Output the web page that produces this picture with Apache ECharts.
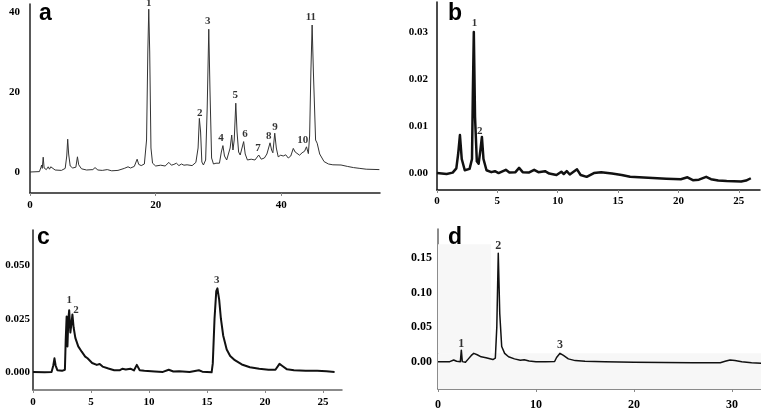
<!DOCTYPE html>
<html>
<head>
<meta charset="utf-8">
<script src="https://cdn.jsdelivr.net/npm/echarts@6/dist/echarts.min.js"></script>
<style>html,body{margin:0;padding:0;background:#fff}#c{width:761px;height:411px}</style>
</head>
<body>
<div id="c"></div>
<script>
// ---------- Panel a ----------
const aTime = [0,1.5,1.75,1.85,1.95,2.1,2.25,2.6,2.9,3.1,3.3,3.6,4.0,5.0,5.6,5.85,6.0,6.15,6.4,6.8,7.3,7.55,7.75,8.2,9.0,10.0,10.35,10.8,11.5,12.3,13.0,14.0,15.0,15.6,16.0,16.6,17.05,17.3,17.7,18.2,18.55,18.75,18.9,19.05,19.25,19.5,20.0,20.8,21.5,22.1,22.5,22.9,23.3,23.7,24.1,24.5,25.0,25.8,26.4,26.75,26.95,27.15,27.35,27.6,27.95,28.2,28.45,28.65,28.9,29.2,29.6,29.9,30.15,30.45,30.7,30.95,31.3,31.6,31.85,32.1,32.3,32.5,32.75,32.95,33.2,33.45,33.75,34.0,34.25,34.6,35.2,35.8,36.4,36.8,37.3,37.7,38.2,38.45,38.65,38.95,39.2,39.5,39.9,40.3,40.7,41.1,41.5,41.9,42.2,42.5,42.9,43.3,43.7,44.0,44.3,44.5,44.7,44.9,45.1,45.45,45.7,46.1,46.8,47.5,48.2,49.5,50.5,51.5,52.5,53.5,55.6];
const aSignal = [0,0.1,1.2,1.75,0.9,3.7,1.0,0.6,1.3,0.7,1.3,0.8,0.5,0.4,0.9,4.0,8.2,4.5,1.5,1.0,1.2,3.8,1.8,0.8,0.5,0.6,1.1,0.5,0.4,0.6,0.3,0.4,0.9,1.3,1.0,1.4,3.2,1.9,1.6,2.0,8,30,40.7,30,6,2.2,1.5,1.7,1.5,2.4,1.7,1.9,2.2,1.6,2.0,1.7,1.8,1.6,2.4,6,13.4,10,2.5,1.75,3,16,35.7,20,3.5,2.0,2.2,2.7,2.2,5,6.6,4,3.0,3.5,6,9.25,5.5,8,17.2,10,5,4.25,4.3,7.6,4.5,3.0,3.2,3.0,4.25,3.2,3.5,4.5,7.3,5.5,4.8,9.7,6,3.8,4.2,4.0,4.3,3.5,4.0,5.9,5.0,5.5,4.2,4.8,5.2,6.3,4.6,9,25,36.75,25,8,7.2,4.5,2.6,2.0,1.8,1.75,1.4,1.1,0.9,0.7,0.6,0.5];
const aPeakX = [18.9,27.0,28.3,30.4,32.65,34.2,36.3,38.0,39.0,43.4,44.7];
const aPeakY = [42.2,14.7,37.8,8.5,19.2,9.4,6.0,9.0,11.3,8.0,38.8];
const aPeakText = ['1','2','3','4','5','6','7','8','9','10','11'];
const aXTicks = [0,20,40];
const aYTicks = [0,20,40];

// ---------- Panel b ----------
const bTime = [0,0.8,1.3,1.6,1.75,1.9,2.05,2.3,2.7,2.9,2.97,3.05,3.15,3.3,3.45,3.6,3.72,3.85,4.1,4.5,4.8,5.1,5.7,6.0,6.5,6.8,7.1,7.6,8.05,8.4,8.95,9.3,9.9,10.3,10.5,10.75,11.0,11.6,11.9,12.4,13.0,13.6,14.5,15.3,16.0,17.5,19.0,20.2,20.75,21.2,21.7,22.3,22.7,23.3,24.0,25.2,25.6,26.0];
const bSignal = [0,-0.0002,0.0001,0.001,0.004,0.0081,0.003,0.0006,0.0009,0.003,0.017,0.030,0.012,0.0025,0.002,0.005,0.0077,0.003,0.0006,0.0002,0.0004,0.0,0.0007,0.0001,0.0002,0.0011,0.0002,0.0001,0.0007,0.0002,0.0004,-0.0001,-0.0004,0.0003,-0.0002,0.0004,-0.0003,0.0008,-0.0004,-0.0008,0.0,0.0002,-0.0001,-0.0004,-0.0008,-0.001,-0.0012,-0.0013,-0.0009,-0.0015,-0.0014,-0.0008,-0.0013,-0.0016,-0.0017,-0.0018,-0.0016,-0.0011];
const bPeakX = [3.1,3.55];
const bPeakY = [0.0318,0.009];
const bPeakText = ['1','2'];
const bXTicks = [0,5,10,15,20,25];
const bYTicks = [0,0.01,0.02,0.03];

// ---------- Panel c ----------
const cTime = [0,1.0,1.6,1.75,1.85,1.95,2.1,2.5,2.75,2.82,2.9,2.97,3.05,3.12,3.22,3.3,3.4,3.5,3.65,3.9,4.2,4.5,4.7,4.85,5.1,5.5,5.75,6.0,6.5,7.0,7.5,7.7,8.0,8.4,8.7,8.95,9.2,9.6,10.5,11.2,11.7,12.1,12.6,13.5,14.3,14.6,15.4,15.5,15.65,15.8,15.9,16.05,16.2,16.4,16.7,17.0,17.4,18.0,18.7,19.5,20.3,20.9,21.25,21.5,21.9,22.5,23.5,24.5,25.3,26.0];
const cSignal = [0,-0.0002,0.0,0.003,0.0064,0.003,0.0008,0.0005,0.001,0.015,0.026,0.012,0.025,0.029,0.0185,0.022,0.027,0.021,0.016,0.012,0.0095,0.0072,0.0064,0.0055,0.0042,0.0033,0.0037,0.0025,0.0016,0.0008,0.0008,0.0015,0.0011,0.0015,0.0007,0.0033,0.0008,0.0005,0.0002,0.0,0.001,0.0002,0.0003,0.0,0.0008,0.0001,-0.0002,0.004,0.025,0.038,0.0393,0.034,0.025,0.017,0.0105,0.0075,0.0055,0.0035,0.0022,0.0015,0.001,0.001,0.0038,0.0028,0.0012,0.0008,0.0006,0.0005,0.0003,0.0];
const cPeakX = [3.13,3.7,15.85];
const cPeakY = [0.0338,0.029,0.0432];
const cPeakText = ['1','2','3'];
const cXTicks = [0,5,10,15,20,25];
const cYTicks = [0,0.025,0.05];

// ---------- Panel d ----------
const dTime = [0,1.2,1.6,1.9,2.28,2.38,2.48,2.8,3.1,3.4,3.65,4.0,4.4,4.9,5.3,5.6,5.85,6.0,6.15,6.3,6.5,6.8,7.2,7.8,8.4,8.8,9.3,10.0,11.0,11.9,12.1,12.45,12.8,13.3,14.0,15.0,17.0,20.0,23.0,26.0,28.8,29.3,29.8,30.3,31.0,32.0,33.0];
const dSignal = [0,0.0,0.0024,0.0005,0.0,0.0166,0.0,-0.001,0.004,0.009,0.012,0.01,0.007,0.0057,0.0042,0.003,0.005,0.05,0.157,0.07,0.022,0.012,0.007,0.004,0.002,0.0028,0.001,0.0,0.0,0.0002,0.006,0.012,0.009,0.004,0.0015,0.0005,0.0,-0.0008,-0.0012,-0.0015,-0.0015,0.0005,0.0025,0.0015,0.0,-0.0015,-0.0025];
const dPeakX = [2.38,6.15,12.45];
const dPeakY = [0.025,0.168,0.0237];
const dPeakText = ['1','2','3'];
const dXTicks = [0,10,20,30];
const dYTicks = [0,0.05,0.1,0.15];

// ---------- build ----------
const zip = (xs, ys) => xs.map((x, i) => [x, ys[i]]);
const labelPts = (xs, ys, ts) => xs.map((x, i) => ({ value: [x, ys[i]], name: ts[i] }));
const serif = '"Liberation Serif", "Times New Roman", serif';

function xAxis(idx, max, ticks, color, margin, size) {
  return {
    type: 'value', gridIndex: idx, min: 0, max: max,
    axisLine: { show: true, onZero: false, lineStyle: { color: color, width: 1.5 } },
    axisTick: { show: true, length: 3, inside: false, customValues: ticks, lineStyle: { color: '#888' } },
    axisLabel: { customValues: ticks, margin: margin, fontFamily: serif, fontWeight: 'bold', fontSize: size, color: '#000' },
    splitLine: { show: false }
  };
}
function yAxis(idx, min, max, ticks, color, margin, size, dec) {
  return {
    type: 'value', gridIndex: idx, min: min, max: max,
    axisLine: { show: true, onZero: false, lineStyle: { color: color, width: 1.5 } },
    axisTick: { show: false },
    axisLabel: { customValues: ticks, margin: margin, fontFamily: serif, fontWeight: 'bold', fontSize: size, color: '#000',
      formatter: v => dec === 0 ? String(Math.round(v)) : Number(v).toFixed(dec) },
    splitLine: { show: false }
  };
}
function trace(idx, data, width, color, extra) {
  return Object.assign({ type: 'line', xAxisIndex: idx, yAxisIndex: idx, data: data, showSymbol: false, symbol: 'none',
    lineStyle: { width: width, color: color, join: 'round' }, animation: false, silent: true, z: 3 }, extra || {});
}
function peaks(idx, pts, size) {
  return { type: 'scatter', xAxisIndex: idx, yAxisIndex: idx, data: pts, symbolSize: 0, clip: false, animation: false, silent: true, z: 5,
    label: { show: true, position: 'inside', formatter: p => p.name, fontFamily: serif, fontWeight: 'bold', fontSize: size, color: '#000' } };
}

const letterFont = 'bold 23px "Liberation Sans", Arial, sans-serif';
const chart = echarts.init(document.getElementById('c'), null, { renderer: 'canvas' });
chart.setOption({
  backgroundColor: '#fff',
  animation: false,
  grid: [
    { left: 30, top: 4, width: 350, height: 189 },
    { left: 437, top: 2, width: 323, height: 188 },
    { left: 33, top: 230, width: 309, height: 160 },
    { left: 438, top: 229, width: 323, height: 162 }
  ],
  xAxis: [
    xAxis(0, 55.7, aXTicks, '#222', 7, 11),
    xAxis(1, 26.76, bXTicks, '#111', 6, 11),
    xAxis(2, 26.64, cXTicks, '#666', 7, 11),
    xAxis(3, 32.96, dXTicks, '#666', 10, 12)
  ],
  yAxis: [
    yAxis(0, -5.25, 42, aYTicks, '#222', 10, 11, 0),
    yAxis(1, -0.0036, 0.0364, bYTicks, '#111', 9, 11, 2),
    yAxis(2, -0.0085, 0.0667, cYTicks, '#222', 3, 11, 3),
    yAxis(3, -0.0396, 0.192, dYTicks, '#666', 6, 12, 2)
  ],
  graphic: [
    { type: 'text', x: 39, y: 14, style: { text: 'a', font: letterFont, fill: '#000', verticalAlign: 'middle' } },
    { type: 'text', x: 448, y: 14, style: { text: 'b', font: letterFont, fill: '#000', verticalAlign: 'middle' } },
    { type: 'text', x: 37, y: 238, style: { text: 'c', font: letterFont, fill: '#000', verticalAlign: 'middle' } },
    { type: 'text', x: 448, y: 238, style: { text: 'd', font: letterFont, fill: '#000', verticalAlign: 'middle' } }
  ],
  series: [
    trace(0, zip(aTime, aSignal), 1, '#333'),
    trace(1, zip(bTime, bSignal), 2.5, '#111'),
    trace(2, zip(cTime, cSignal), 2, '#111'),
    trace(3, zip(dTime, dSignal), 1.5, '#111', {
      markArea: { silent: true, itemStyle: { color: '#f7f7f7' }, data: [
        [{ xAxis: 0, yAxis: -0.0396 }, { xAxis: 32.96, yAxis: 0.012 }],
        [{ xAxis: 0, yAxis: 0.012 }, { xAxis: 5.4, yAxis: 0.17 }]
      ] }
    }),
    peaks(0, labelPts(aPeakX, aPeakY, aPeakText), 11),
    peaks(1, labelPts(bPeakX, bPeakY, bPeakText), 11),
    peaks(2, labelPts(cPeakX, cPeakY, cPeakText), 11),
    peaks(3, labelPts(dPeakX, dPeakY, dPeakText), 12)
  ]
});
</script>
</body>
</html>
